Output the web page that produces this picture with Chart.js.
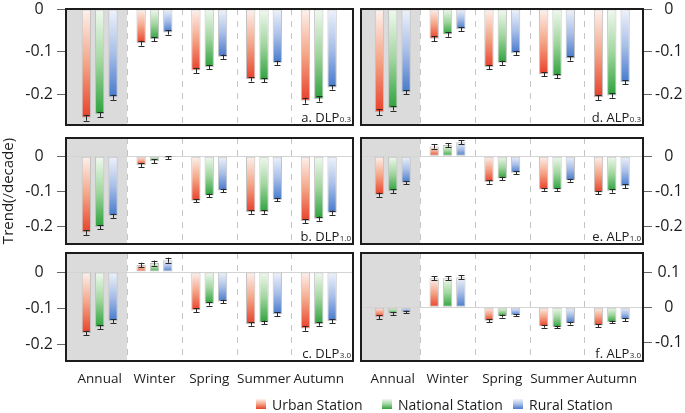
<!DOCTYPE html>
<html>
<head>
<meta charset="utf-8">
<script src="https://cdn.jsdelivr.net/npm/chart.js@4.4.1/dist/chart.umd.min.js"></script>
<style>
html,body{margin:0;padding:0;background:#fff;}
body{width:685px;height:413px;overflow:hidden;position:relative;font-family:"Open Sans",sans-serif;}
canvas{position:absolute;}
.lg{position:absolute;top:396px;height:16px;display:flex;align-items:center;font-size:14px;color:#1c1c1c;white-space:nowrap;}
.lg span.box{display:inline-block;width:10px;height:10px;margin-right:6px;}
</style>
</head>
<body>
<div id="wrap"></div>
<script>
// ---------- data ----------
const categories = ['Annual', 'Winter', 'Spring', 'Summer', 'Autumn'];
const seriesNames = ['Urban Station', 'National Station', 'Rural Station'];

// a. DLP0.3
const dlp03Urban    = [-0.255, -0.080, -0.144, -0.165, -0.215];
const dlp03National = [-0.247, -0.071, -0.136, -0.167, -0.211];
const dlp03Rural    = [-0.207, -0.055, -0.112, -0.126, -0.184];
const dlp03Err      = [[0.007, 0.006, 0.006, 0.005, 0.007], [0.006, 0.005, 0.005, 0.005, 0.006], [0.006, 0.005, 0.005, 0.005, 0.005]];
// b. DLP1.0
const dlp10Urban    = [-0.216, -0.025, -0.126, -0.158, -0.184];
const dlp10National = [-0.201, -0.014, -0.111, -0.158, -0.177];
const dlp10Rural    = [-0.169, -0.004, -0.097, -0.123, -0.160];
const dlp10Err      = [[0.007, 0.006, 0.005, 0.005, 0.006], [0.006, 0.006, 0.005, 0.005, 0.006], [0.006, 0.004, 0.005, 0.005, 0.006]];
// c. DLP3.0
const dlp30Urban    = [-0.169, 0.020, -0.106, -0.144, -0.157];
const dlp30National = [-0.153, 0.025, -0.088, -0.140, -0.144];
const dlp30Rural    = [-0.136, 0.033, -0.082, -0.117, -0.136];
const dlp30Err      = [[0.006, 0.006, 0.005, 0.005, 0.006], [0.005, 0.007, 0.005, 0.005, 0.005], [0.005, 0.007, 0.005, 0.005, 0.006]];
// d. ALP0.3
const alp03Urban    = [-0.242, -0.070, -0.136, -0.153, -0.207];
const alp03National = [-0.233, -0.060, -0.126, -0.157, -0.203];
const alp03Rural    = [-0.195, -0.047, -0.103, -0.116, -0.172];
const alp03Err      = [[0.007, 0.006, 0.005, 0.005, 0.006], [0.005, 0.005, 0.005, 0.005, 0.005], [0.005, 0.005, 0.005, 0.005, 0.005]];
// e. ALP1.0
const alp10Urban    = [-0.109, 0.028, -0.073, -0.094, -0.103];
const alp10National = [-0.099, 0.032, -0.063, -0.094, -0.098];
const alp10Rural    = [-0.075, 0.040, -0.047, -0.068, -0.085];
const alp10Err      = [[0.006, 0.006, 0.005, 0.004, 0.005], [0.005, 0.006, 0.005, 0.004, 0.005], [0.005, 0.006, 0.004, 0.004, 0.005]];
// f. ALP3.0
const alp30Urban    = [-0.028, 0.083, -0.038, -0.054, -0.052];
const alp30National = [-0.018, 0.083, -0.025, -0.056, -0.042];
const alp30Rural    = [-0.013, 0.086, -0.022, -0.045, -0.035];
const alp30Err      = [[0.006, 0.006, 0.004, 0.004, 0.004], [0.005, 0.006, 0.004, 0.004, 0.004], [0.004, 0.005, 0.003, 0.004, 0.004]];

// tick labels
const ticksTop    = [0, -0.1, -0.2];
const ticksMid    = [0, -0.1, -0.2];
const ticksDLP30  = [0, -0.1, -0.2];
const ticksALP30  = [0.1, 0, -0.1];
const yTitle = 'Trend(/decade)';

// ---------- styling ----------
const palette = [
  ['#fdf2ee', '#f4a587', '#e8412a'],
  ['#f1f9f0', '#a2d69f', '#2ea23d'],
  ['#eff3fb', '#a9bfe8', '#4679cc']
];
const FONT = '"Open Sans", "DejaVu Sans", sans-serif';

function grad(cols) {
  return (ctx) => {
    if (ctx.type !== 'data') return cols[2];
    const chart = ctx.chart, ys = chart.scales.y;
    if (!ys) return cols[2];
    const v = ctx.parsed ? ctx.parsed.y : ctx.raw.y;
    const p0 = ys.getPixelForValue(0), p1 = ys.getPixelForValue(v);
    const top = Math.min(p0, p1), bot = Math.max(p0, p1);
    if (!isFinite(top) || !isFinite(bot) || bot - top < 0.5) return cols[2];
    const g = chart.ctx.createLinearGradient(0, top, 0, bot);
    g.addColorStop(0, cols[0]);
    g.addColorStop(0.5, cols[1]);
    g.addColorStop(1, cols[2]);
    return g;
  };
}

const deco = {
  id: 'deco',
  beforeDatasetsDraw(chart) {
    const {ctx, chartArea: a, scales: {x, y}} = chart;
    ctx.save();
    const xg = x.getPixelForValue(0.5);
    ctx.fillStyle = '#dbdbdb';
    ctx.fillRect(a.left, a.top, xg - a.left, a.bottom - a.top);
    ctx.strokeStyle = '#c4c4c4';
    ctx.lineWidth = 1;
    ctx.setLineDash([6, 6]);
    for (let i = 0; i < categories.length - 1; i++) {
      const px = Math.round(x.getPixelForValue(i + 0.5)) + 0.5;
      ctx.beginPath(); ctx.moveTo(px, a.top); ctx.lineTo(px, a.bottom); ctx.stroke();
    }
    ctx.setLineDash([]);
    if (y.min < 0 && y.max > 0) {
      const py = Math.round(y.getPixelForValue(0)) + 0.5;
      ctx.strokeStyle = '#d4d4d4';
      ctx.beginPath(); ctx.moveTo(a.left, py); ctx.lineTo(a.right, py); ctx.stroke();
    }
    ctx.restore();
  },
  afterDatasetsDraw(chart) {
    const {ctx, scales: {y}} = chart;
    ctx.save();
    ctx.strokeStyle = '#2a2a2a';
    ctx.lineWidth = 1;
    chart.data.datasets.forEach((ds, di) => {
      const meta = chart.getDatasetMeta(di);
      meta.data.forEach((el, i) => {
        const v = ds.data[i].y, e = ds.errors[i];
        const y1 = y.getPixelForValue(v - e), y2 = y.getPixelForValue(v + e);
        const cx = Math.round(el.x) + 0.5;
        ctx.beginPath();
        ctx.moveTo(cx, y1); ctx.lineTo(cx, y2);
        ctx.moveTo(cx - 3, Math.round(y1) + 0.5); ctx.lineTo(cx + 3, Math.round(y1) + 0.5);
        ctx.moveTo(cx - 3, Math.round(y2) + 0.5); ctx.lineTo(cx + 3, Math.round(y2) + 0.5);
        ctx.stroke();
      });
    });
    ctx.restore();
  },
  afterDraw(chart) {
    const {ctx, chartArea: a} = chart;
    const o = chart.options.plugins.deco;
    ctx.save();
    ctx.strokeStyle = '#1c1c1c';
    ctx.lineWidth = 2;
    ctx.strokeRect(a.left, a.top, a.right - a.left, a.bottom - a.top);
    ctx.fillStyle = '#1c1c1c';
    ctx.textBaseline = 'alphabetic';
    ctx.font = '8px ' + FONT;
    const sw = ctx.measureText(o.sub).width;
    ctx.fillText(o.sub, a.right - 2 - sw, a.bottom - 3);
    ctx.font = '13px ' + FONT;
    const mw = ctx.measureText(o.label).width;
    ctx.fillText(o.label, a.right - 2.5 - sw - mw, a.bottom - 3.5);
    ctx.restore();
  }
};

const panels = [
  {label: 'a. DLP', sub: '0.3', series: [dlp03Urban, dlp03National, dlp03Rural], err: dlp03Err, yMin: -0.272, yMax: 0, ticks: ticksTop, side: 'left', area: {l: 66, t: 9, r: 353, b: 125}, xMin: -0.615, xMax: 4.625, xLabels: false, title: false},
  {label: 'b. DLP', sub: '1.0', series: [dlp10Urban, dlp10National, dlp10Rural], err: dlp10Err, yMin: -0.249, yMax: 0.052, ticks: ticksMid, side: 'left', area: {l: 66, t: 138, r: 353, b: 244}, xMin: -0.615, xMax: 4.625, xLabels: false, title: true},
  {label: 'c. DLP', sub: '3.0', series: [dlp30Urban, dlp30National, dlp30Rural], err: dlp30Err, yMin: -0.247, yMax: 0.053, ticks: ticksDLP30, side: 'left', area: {l: 66, t: 253, r: 353, b: 361}, xMin: -0.615, xMax: 4.625, xLabels: true, title: false},
  {label: 'd. ALP', sub: '0.3', series: [alp03Urban, alp03National, alp03Rural], err: alp03Err, yMin: -0.272, yMax: 0, ticks: ticksTop, side: 'right', area: {l: 361, t: 9, r: 643, b: 125}, xMin: -0.58, xMax: 4.57, xLabels: false, title: false},
  {label: 'e. ALP', sub: '1.0', series: [alp10Urban, alp10National, alp10Rural], err: alp10Err, yMin: -0.249, yMax: 0.052, ticks: ticksMid, side: 'right', area: {l: 361, t: 138, r: 643, b: 244}, xMin: -0.58, xMax: 4.57, xLabels: false, title: false},
  {label: 'f. ALP', sub: '3.0', series: [alp30Urban, alp30National, alp30Rural], err: alp30Err, yMin: -0.153, yMax: 0.155, ticks: ticksALP30, side: 'right', area: {l: 361, t: 253, r: 643, b: 361}, xMin: -0.58, xMax: 4.57, xLabels: true, title: false}
];

function fmt(v) { return Math.abs(v) < 1e-9 ? '0' : v.toFixed(1); }

function makePanel(p) {
  const left = p.side === 'left';
  const cL = left ? 0 : 356, cR = left ? 356 : 685;
  const cT = p.area.t - 20;
  const xH = p.xLabels ? 30 : 0;
  const padB = p.xLabels ? 0 : 16;
  const cB = p.area.b + xH + padB;
  const W = cR - cL, H = cB - cT;
  const canvas = document.createElement('canvas');
  canvas.width = W; canvas.height = H;
  canvas.style.left = cL + 'px'; canvas.style.top = cT + 'px';
  canvas.style.width = W + 'px'; canvas.style.height = H + 'px';
  document.getElementById('wrap').appendChild(canvas);
  const axisW = left ? p.area.l - cL : cR - p.area.r;
  const padding = left
    ? {left: 0, right: cR - p.area.r, top: 20, bottom: padB}
    : {left: p.area.l - cL, right: 0, top: 20, bottom: padB};

  new Chart(canvas, {
    type: 'bar',
    data: {
      datasets: p.series.map((vals, s) => ({
        label: seriesNames[s],
        data: vals.map((v, i) => ({x: i, y: v})),
        errors: p.err[s],
        backgroundColor: grad(palette[s]),
        borderColor: '#c2c2c2',
        borderWidth: 1,
        borderSkipped: false,
        categoryPercentage: 0.73,
        barPercentage: 0.7
      }))
    },
    options: {
      responsive: false,
      animation: false,
      devicePixelRatio: 1,
      layout: {padding},
      plugins: {legend: {display: false}, tooltip: {enabled: false}, deco: {label: p.label, sub: p.sub}},
      scales: {
        x: {
          type: 'linear', min: p.xMin, max: p.xMax, offset: false,
          afterBuildTicks: (s) => { s.ticks = categories.map((c, i) => ({value: i})); },
          afterFit: (s) => { s.height = xH; },
          grid: {display: false}, border: {display: false},
          ticks: {display: p.xLabels, autoSkip: false, maxRotation: 0, padding: 2, color: '#1c1c1c',
                  font: {family: FONT, size: 13.5}, callback: (v) => categories[v] ?? ''}
        },
        y: {
          position: p.side, min: p.yMin, max: p.yMax,
          afterBuildTicks: (s) => { s.ticks = p.ticks.map((v) => ({value: v})); },
          afterFit: (s) => { s.width = axisW; },
          grid: {drawOnChartArea: false, drawTicks: true, tickLength: 9, color: '#666', lineWidth: 1},
          border: {display: false},
          ticks: {crossAlign: 'center', padding: left ? 4 : 3, color: '#1c1c1c', font: {family: FONT, size: 16}, callback: (v) => fmt(v)},
          title: {display: p.title, text: yTitle, padding: 0, color: '#1c1c1c', font: {family: FONT, size: 15}}
        }
      }
    },
    plugins: [deco]
  });
}

panels.forEach(makePanel);

// legend
const legendX = [256, 382, 513];
seriesNames.forEach((n, s) => {
  const d = document.createElement('div');
  d.className = 'lg';
  d.style.left = legendX[s] + 'px';
  const b = document.createElement('span');
  b.className = 'box';
  b.style.background = 'linear-gradient(to bottom,' + palette[s][0] + ',' + palette[s][1] + ',' + palette[s][2] + ')';
  d.appendChild(b);
  d.appendChild(document.createTextNode(n));
  document.body.appendChild(d);
});
</script>
</body>
</html>
